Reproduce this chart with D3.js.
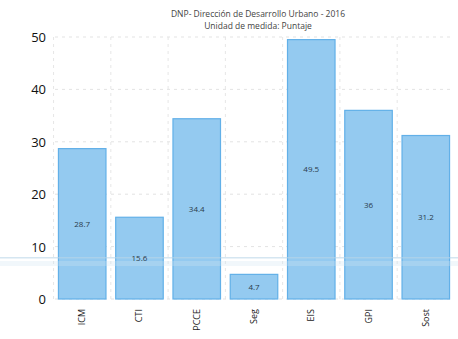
<!DOCTYPE html>
<html><head><meta charset="utf-8">
<script src="https://cdn.jsdelivr.net/npm/d3@7"></script>
<style>body{margin:0;background:#fff}svg{display:block}text{font-family:"Open Sans","Noto Sans",sans-serif}</style>
</head><body>
<svg id="c" width="458" height="339"></svg>
<script>
const categories = ["ICM","CTI","PCCE","Seg","EIS","GPI","Sost"];
const values = [28.7, 15.6, 34.4, 4.7, 49.5, 36, 31.2];
const valueLabels = ["28.7","15.6","34.4","4.7","49.5","36","31.2"];
const yTicks = [0,10,20,30,40,50];
const title = "DNP- Dirección de Desarrollo Urbano - 2016";
const subtitle = "Unidad de medida: Puntaje";

const svg = d3.select("#c");
const m = {left:55, right:5, top:37, bottom:40};
const W = 458, H = 339;
const x = d3.scaleBand().domain(categories).range([m.left, W - m.right]).paddingInner(0.17).paddingOuter(0.06);
const y = d3.scaleLinear().domain([0,50]).range([H - m.bottom, m.top]);

// gridlines
svg.append("g").selectAll("line").data(yTicks).join("line")
  .attr("x1", m.left).attr("x2", W - 5).attr("y1", d=>y(d)).attr("y2", d=>y(d))
  .attr("stroke","#e3e3e3").attr("stroke-dasharray","3,4");
const step = x.step();
svg.append("g").selectAll("line").data(categories).join("line")
  .attr("x1", d=>x(d)-(step-x.bandwidth())/2).attr("x2", d=>x(d)-(step-x.bandwidth())/2)
  .attr("y1", m.top).attr("y2", y(0))
  .attr("stroke","#e6e6e6").attr("stroke-dasharray","3,4");

// title
svg.append("text").attr("x",258).attr("y",17).attr("text-anchor","middle")
  .attr("font-size",8.5).attr("fill","#444").text(title);
svg.append("text").attr("x",258).attr("y",29).attr("text-anchor","middle")
  .attr("font-size",8.5).attr("fill","#444").text(subtitle);

// bars
svg.append("g").selectAll("rect").data(values).join("rect")
  .attr("x",(d,i)=>x(categories[i])).attr("width",x.bandwidth())
  .attr("y",d=>y(d)).attr("height",d=>y(0)-y(d))
  .attr("fill","#94caf0").attr("stroke","#62b0e8").attr("stroke-width",1.2);

// scan artifact band
svg.append("rect").attr("x",0).attr("width",W).attr("y",y(0)-42).attr("height",1.5)
  .attr("fill","#b9d6e8").attr("opacity",0.6);
svg.append("rect").attr("x",0).attr("width",W).attr("y",y(0)-38).attr("height",5)
  .attr("fill","#cfe6f3").attr("opacity",0.3);

// value labels
svg.append("g").selectAll("text").data(values).join("text")
  .attr("x",(d,i)=>x(categories[i])+x.bandwidth()/2)
  .attr("y",d=>(y(d)+y(0))/2+3)
  .attr("text-anchor","middle").attr("font-size",8).attr("fill","#2a3a4a")
  .text((d,i)=>valueLabels[i]);

// y axis labels
svg.append("g").selectAll("text").data(yTicks).join("text")
  .attr("x",46).attr("y",d=>y(d)+5).attr("text-anchor","end")
  .attr("font-size",13).attr("fill","#111").text(d=>d);

// x axis labels
svg.append("g").selectAll("text").data(categories).join("text")
  .attr("transform",d=>`translate(${x(d)+x.bandwidth()/2+3},${y(0)+10}) rotate(-90)`)
  .attr("text-anchor","end").attr("font-size",9).attr("fill","#222").text(d=>d);
</script>
</body></html>
